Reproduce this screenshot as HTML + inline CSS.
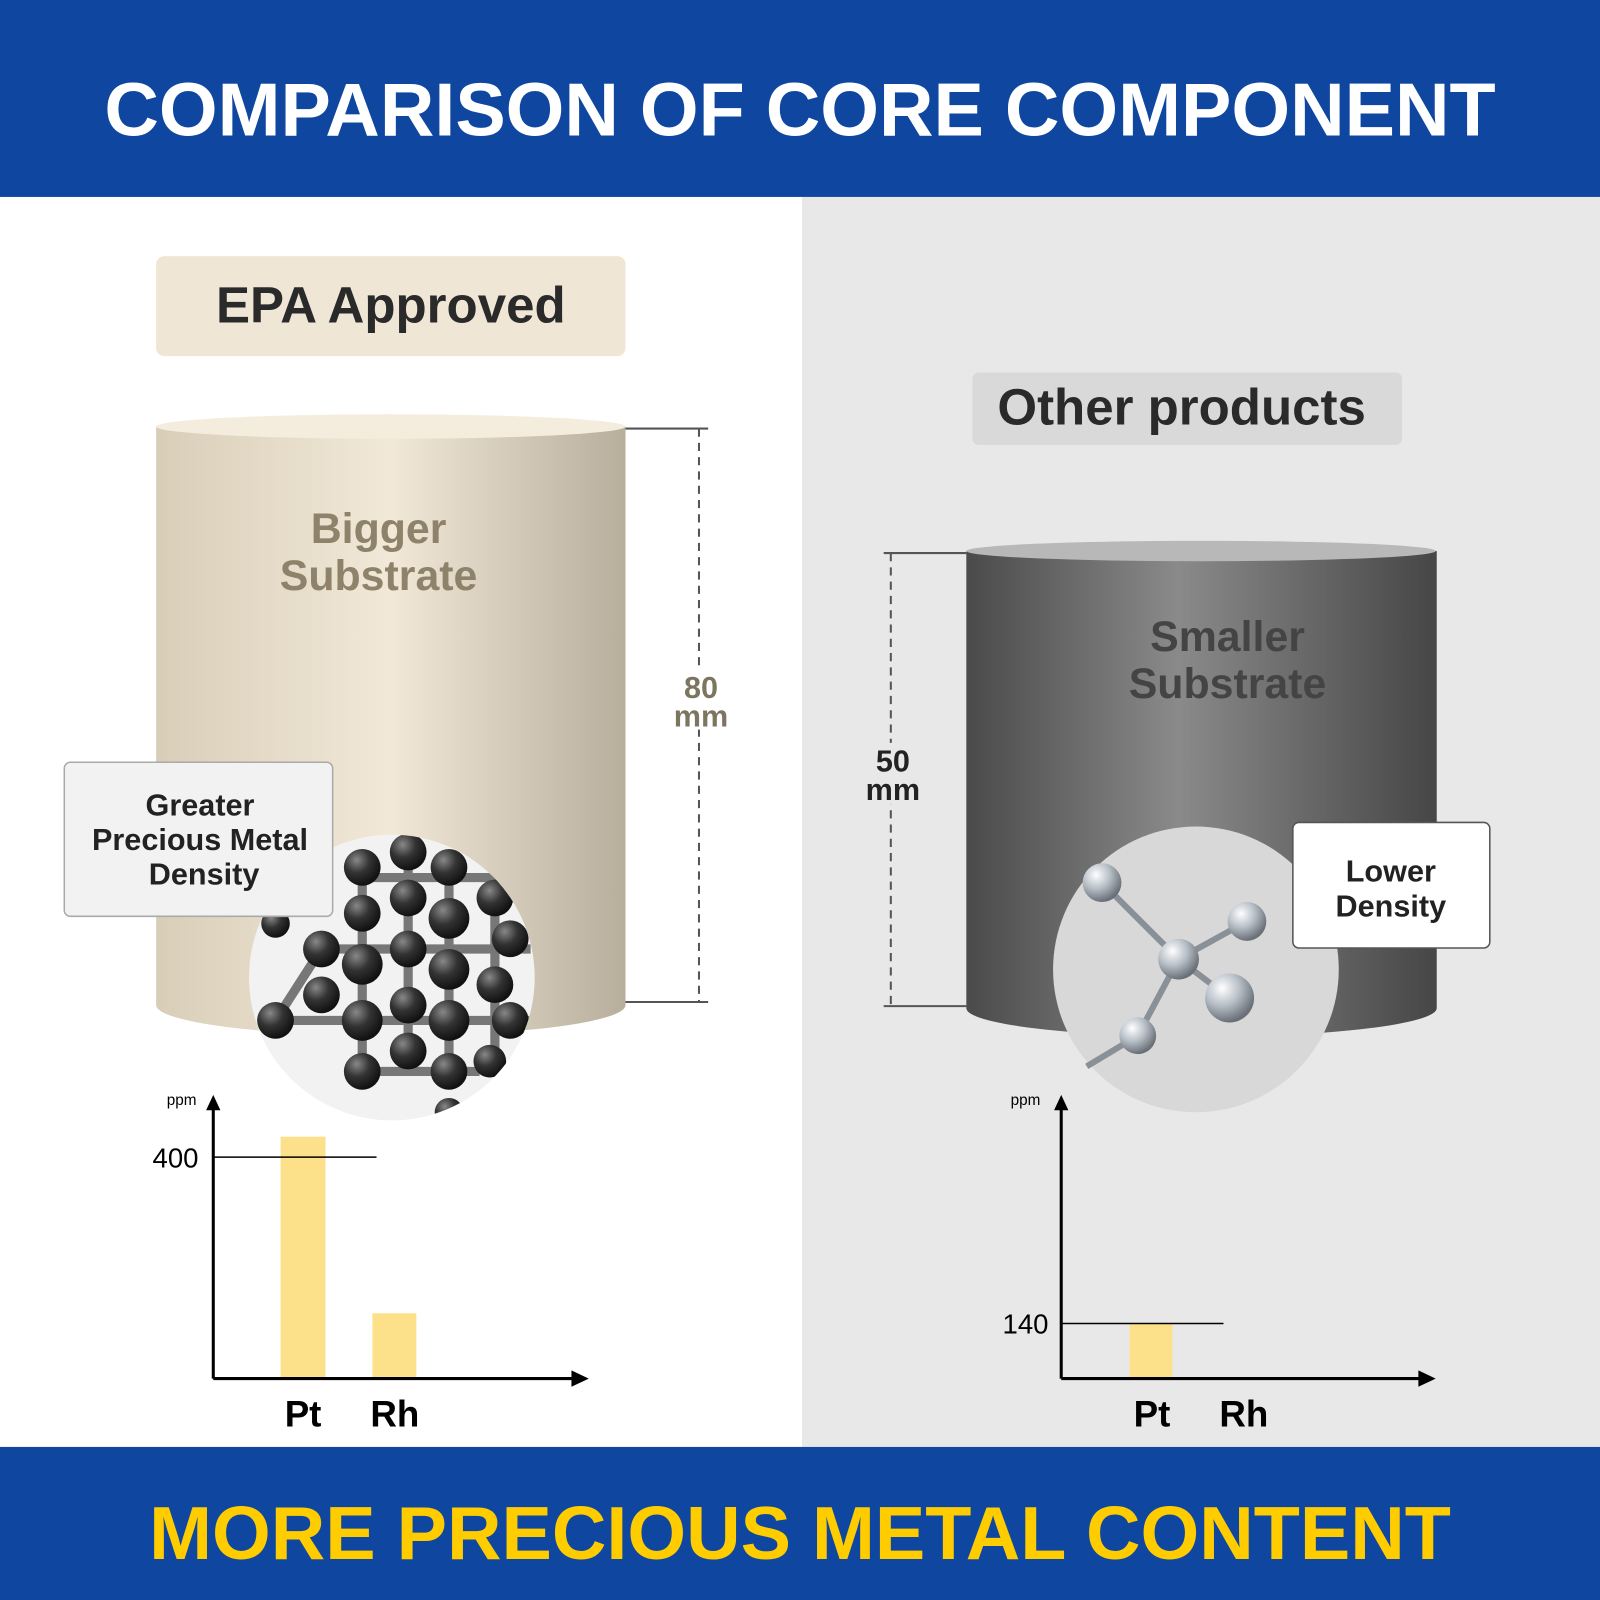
<!DOCTYPE html>
<html><head><meta charset="utf-8"><style>
html,body{margin:0;padding:0;background:#fff}
svg{display:block}
text{font-family:"Liberation Sans",sans-serif}
</style></head><body>
<svg width="1600" height="1600" viewBox="0 0 1568 1568" xmlns="http://www.w3.org/2000/svg">
<defs>
<linearGradient id="lc" x1="0" x2="1"><stop offset="0" stop-color="#d8ceb8"/><stop offset="0.5" stop-color="#f2e8d8"/><stop offset="1" stop-color="#b8ae9c"/></linearGradient>
<linearGradient id="rc" x1="0" x2="1"><stop offset="0" stop-color="#4a4a4a"/><stop offset="0.45" stop-color="#8a8a8a"/><stop offset="1" stop-color="#464646"/></linearGradient>
<radialGradient id="db" cx="0.35" cy="0.3" r="0.7"><stop offset="0" stop-color="#888"/><stop offset="0.5" stop-color="#333"/><stop offset="1" stop-color="#111"/></radialGradient>
<radialGradient id="sb" cx="0.35" cy="0.3" r="0.7"><stop offset="0" stop-color="#fff"/><stop offset="0.5" stop-color="#b8c0c8"/><stop offset="1" stop-color="#6a7078"/></radialGradient>
<marker id="ar" markerWidth="10" markerHeight="10" refX="8" refY="5" orient="auto" markerUnits="userSpaceOnUse"><path d="M0,0 L16,5 L0,10z" transform="scale(1)" fill="#000"/></marker>
</defs>
<rect width="1568" height="1568" fill="#fff"/>
<rect x="786" y="193" width="782" height="1225" fill="#e8e8e8"/>
<rect width="1568" height="193" fill="#0f47a0"/>
<text x="784" y="133" text-anchor="middle" font-size="74" font-weight="bold" fill="#fff">COMPARISON OF CORE COMPONENT</text>
<rect y="1418" width="1568" height="150" fill="#0f47a0"/>
<text x="784" y="1528" text-anchor="middle" font-size="74" font-weight="bold" fill="#ffcc00">MORE PRECIOUS METAL CONTENT</text>

<rect x="153" y="251" width="460" height="98" rx="8" fill="#f0e6d6"/>
<text x="383" y="316" text-anchor="middle" font-size="50" font-weight="bold" fill="#2a2a2a">EPA Approved</text>
<rect x="953" y="365" width="421" height="71" rx="6" fill="#d9d9d9"/>
<text x="1158" y="416" text-anchor="middle" font-size="50" font-weight="bold" fill="#2a2a2a">Other products</text>

<!-- left cylinder -->
<path d="M153,418 L153,985 A230,30 0 0 0 613,985 L613,418z" fill="url(#lc)"/>
<ellipse cx="383" cy="418" rx="230" ry="12" fill="#f4ecdc"/>
<text x="371" y="532" text-anchor="middle" font-size="42" font-weight="bold" fill="#8e826a">Bigger</text>
<text x="371" y="578" text-anchor="middle" font-size="42" font-weight="bold" fill="#8e826a">Substrate</text>
<path d="M613,420 H694 M613,982 H694" stroke="#555" stroke-width="2"/>
<line x1="685" y1="420" x2="685" y2="982" stroke="#555" stroke-width="2" stroke-dasharray="8,6"/>
<rect x="655" y="655" width="62" height="60" fill="#fff"/>
<text x="687" y="684" text-anchor="middle" font-size="30" font-weight="bold" fill="#7d7560">80</text>
<text x="687" y="712" text-anchor="middle" font-size="30" font-weight="bold" fill="#7d7560">mm</text>

<!-- right cylinder -->
<path d="M947,540 L947,988 A230,28 0 0 0 1408,988 L1408,540z" fill="url(#rc)"/>
<ellipse cx="1177" cy="540" rx="230" ry="10" fill="#b8b8b8"/>
<text x="1203" y="638" text-anchor="middle" font-size="42" font-weight="bold" fill="#444">Smaller</text>
<text x="1203" y="684" text-anchor="middle" font-size="42" font-weight="bold" fill="#444">Substrate</text>
<path d="M866,542 H947 M866,986 H947" stroke="#555" stroke-width="2"/>
<line x1="873" y1="542" x2="873" y2="986" stroke="#555" stroke-width="2" stroke-dasharray="8,6"/>
<rect x="843" y="728" width="62" height="60" fill="#e8e8e8"/>
<text x="875" y="756" text-anchor="middle" font-size="30" font-weight="bold" fill="#222">50</text>
<text x="875" y="784" text-anchor="middle" font-size="30" font-weight="bold" fill="#222">mm</text>

<!-- left molecule -->
<circle cx="384" cy="958" r="140" fill="#f2f2f2"/>
<clipPath id="c1"><circle cx="384" cy="958" r="140"/></clipPath>
<g clip-path="url(#c1)" stroke="#777" stroke-width="9">
<g id="g">
<line x1="315" y1="930" x2="520" y2="930"/><line x1="275" y1="1000" x2="520" y2="1000"/>
<line x1="355" y1="860" x2="520" y2="860"/><line x1="355" y1="1050" x2="470" y2="1050"/>
<line x1="355" y1="840" x2="355" y2="1050"/><line x1="400" y1="830" x2="400" y2="1050"/>
<line x1="440" y1="840" x2="440" y2="1050"/><line x1="485" y1="860" x2="485" y2="1030"/>
<line x1="270" y1="1000" x2="315" y2="930"/>
</g>
<g fill="url(#db)" stroke="none">
<circle cx="355" cy="850" r="18"/><circle cx="400" cy="835" r="18"/><circle cx="440" cy="850" r="18"/><circle cx="485" cy="880" r="18"/>
<circle cx="355" cy="895" r="18"/><circle cx="400" cy="880" r="18"/><circle cx="440" cy="900" r="20"/><circle cx="500" cy="920" r="18"/>
<circle cx="315" cy="930" r="18"/><circle cx="355" cy="945" r="20"/><circle cx="400" cy="930" r="18"/><circle cx="440" cy="950" r="20"/><circle cx="485" cy="965" r="18"/>
<circle cx="270" cy="1000" r="18"/><circle cx="315" cy="975" r="18"/><circle cx="355" cy="1000" r="20"/><circle cx="400" cy="985" r="18"/><circle cx="440" cy="1000" r="20"/><circle cx="500" cy="1000" r="18"/>
<circle cx="355" cy="1050" r="18"/><circle cx="400" cy="1030" r="18"/><circle cx="440" cy="1050" r="18"/><circle cx="480" cy="1040" r="16"/>
<circle cx="270" cy="905" r="14"/><circle cx="440" cy="1090" r="14"/>
</g>
</g>
<rect x="63" y="747" width="263" height="151" rx="6" fill="#f2f2f2" stroke="#aaa" stroke-width="1.5"/>
<text x="196" y="799" text-anchor="middle" font-size="30" font-weight="bold" fill="#222">Greater</text>
<text x="196" y="833" text-anchor="middle" font-size="30" font-weight="bold" fill="#222">Precious Metal</text>
<text x="200" y="867" text-anchor="middle" font-size="30" font-weight="bold" fill="#222">Density</text>

<!-- right molecule -->
<circle cx="1172" cy="950" r="140" fill="#d8d8d8"/>
<g stroke="#8a9098" stroke-width="6">
<line x1="1080" y1="865" x2="1155" y2="940"/><line x1="1155" y1="940" x2="1222" y2="903"/>
<line x1="1155" y1="940" x2="1205" y2="978"/><line x1="1155" y1="940" x2="1115" y2="1015"/>
<line x1="1115" y1="1015" x2="1065" y2="1045"/>
</g>
<g fill="url(#sb)">
<circle cx="1080" cy="865" r="19"/><circle cx="1155" cy="940" r="20"/><circle cx="1222" cy="903" r="19"/>
<circle cx="1205" cy="978" r="24"/><circle cx="1115" cy="1015" r="18"/>
</g>
<rect x="1267" y="806" width="193" height="123" rx="6" fill="#fff" stroke="#555" stroke-width="1.5"/>
<text x="1363" y="864" text-anchor="middle" font-size="30" font-weight="bold" fill="#222">Lower</text>
<text x="1363" y="898" text-anchor="middle" font-size="30" font-weight="bold" fill="#222">Density</text>

<!-- left chart -->
<rect x="275" y="1114" width="44" height="237" fill="#fde08a"/>
<rect x="365" y="1287" width="43" height="64" fill="#fde08a"/>
<line x1="209" y1="1134" x2="369" y2="1134" stroke="#000" stroke-width="1.5"/>
<path d="M209,1351 V1080" stroke="#000" stroke-width="3"/>
<path d="M202,1088 L209,1073 L216,1088z" fill="#000"/>
<path d="M209,1351 H562" stroke="#000" stroke-width="3"/>
<path d="M560,1343 L577,1351 L560,1359z" fill="#000"/>
<text x="178" y="1083" text-anchor="middle" font-size="15" fill="#000">ppm</text>
<text x="172" y="1144" text-anchor="middle" font-size="27" fill="#000">400</text>
<text x="297" y="1398" text-anchor="middle" font-size="36" font-weight="bold" fill="#000">Pt</text>
<text x="387" y="1398" text-anchor="middle" font-size="36" font-weight="bold" fill="#000">Rh</text>

<!-- right chart -->
<rect x="1107" y="1297" width="42" height="54" fill="#fde08a"/>
<line x1="1040" y1="1297" x2="1199" y2="1297" stroke="#000" stroke-width="1.5"/>
<path d="M1040,1351 V1080" stroke="#000" stroke-width="3"/>
<path d="M1033,1088 L1040,1073 L1047,1088z" fill="#000"/>
<path d="M1040,1351 H1392" stroke="#000" stroke-width="3"/>
<path d="M1390,1343 L1407,1351 L1390,1359z" fill="#000"/>
<text x="1005" y="1083" text-anchor="middle" font-size="15" fill="#000">ppm</text>
<text x="1005" y="1307" text-anchor="middle" font-size="27" fill="#000">140</text>
<text x="1129" y="1398" text-anchor="middle" font-size="36" font-weight="bold" fill="#000">Pt</text>
<text x="1219" y="1398" text-anchor="middle" font-size="36" font-weight="bold" fill="#000">Rh</text>
</svg>
</body></html>
